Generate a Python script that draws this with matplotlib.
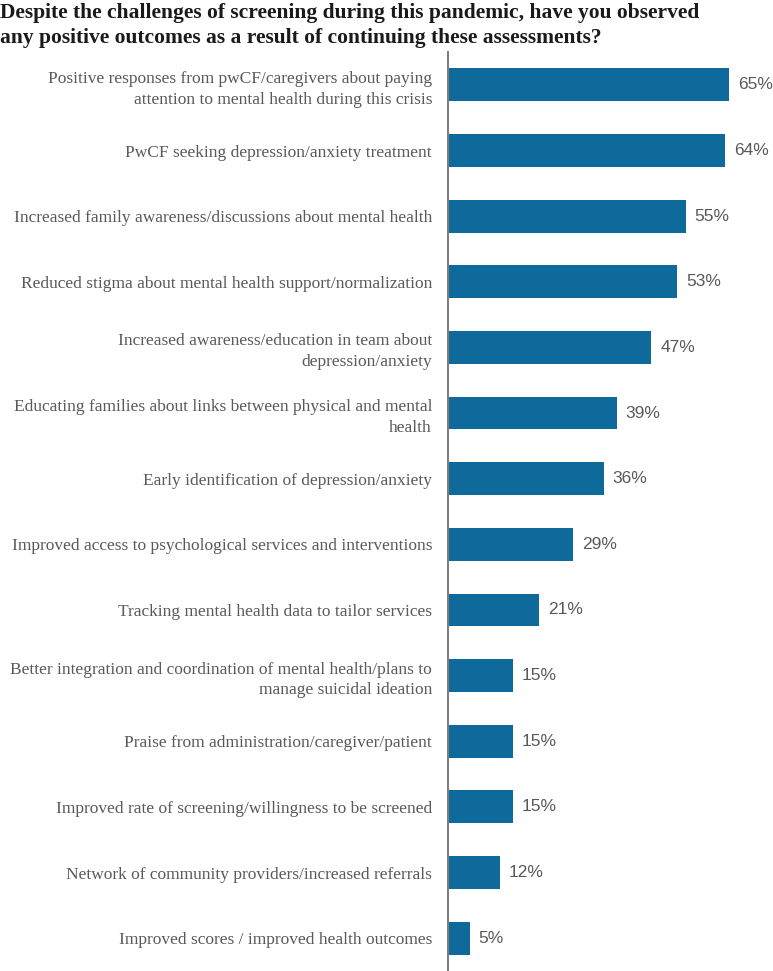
"""
Positive outcomes of continued mental health screening during the pandemic
"""
import matplotlib
matplotlib.use("Agg")
import matplotlib.pyplot as plt

TITLE = ("Despite the challenges of screening during this pandemic, have you observed\n"
         "any positive outcomes as a result of continuing these assessments?")

categories = [
    "Positive responses from pwCF/caregivers about paying\nattention to mental health during this crisis",
    "PwCF seeking depression/anxiety treatment",
    "Increased family awareness/discussions about mental health",
    "Reduced stigma about mental health support/normalization",
    "Increased awareness/education in team about\ndepression/anxiety",
    "Educating families about links between physical and mental\nhealth",
    "Early identification of depression/anxiety",
    "Improved access to psychological services and interventions",
    "Tracking mental health data to tailor services",
    "Better integration and coordination of mental health/plans to\nmanage suicidal ideation",
    "Praise from administration/caregiver/patient",
    "Improved rate of screening/willingness to be screened",
    "Network of community providers/increased referrals",
    "Improved scores / improved health outcomes",
]
values = [65, 64, 55, 53, 47, 39, 36, 29, 21, 15, 15, 15, 12, 5]

BAR_COLOR = "#0d6a9b"
TEXT_GRAY = "#595959"


def main():
    fig = plt.figure(figsize=(7.73, 9.71), dpi=100)
    ax = fig.add_axes([0.5796, 0.0, 0.4204, 0.9464])

    pos = list(range(len(values)))
    ax.barh(pos, values, height=0.5, color=BAR_COLOR)

    for p, v in zip(pos, values):
        ax.text(v + 2.1, p, f"{v}%", va="center", ha="left",
                fontsize=12.5, color=TEXT_GRAY, family="Liberation Sans")

    ax.set_ylim(len(values) - 0.5, -0.5)
    ax.set_xlim(0, 75.2)
    ax.set_yticks(pos)
    ax.set_yticklabels(categories, family="Liberation Serif", fontsize=12.5,
                       color=TEXT_GRAY, linespacing=1.4)
    ax.tick_params(axis="y", length=0, pad=11.5)
    ax.set_xticks([])

    for side in ["top", "right", "bottom"]:
        ax.spines[side].set_visible(False)
    ax.spines["left"].set_color("#7f7f7f")
    ax.spines["left"].set_linewidth(1.5)

    fig.text(0.0, 0.997, TITLE, ha="left", va="top", fontsize=15.5,
             fontweight="bold", family="Liberation Serif", color="#1a1a1a",
             linespacing=1.35)

    fig.savefig("out.png", dpi=100)


if __name__ == "__main__":
    main()
